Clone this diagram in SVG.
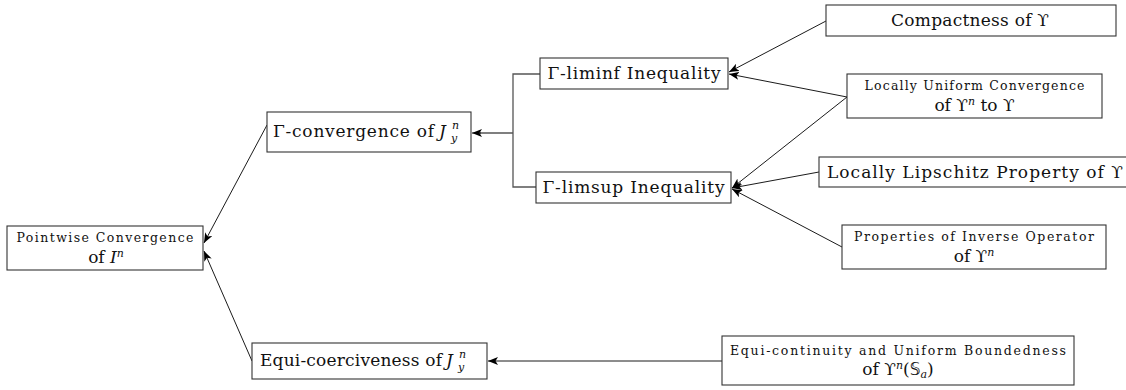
<svg xmlns="http://www.w3.org/2000/svg" width="1126" height="390" viewBox="0 0 1126 390">
<defs>
<marker id="arr" viewBox="0 0 10 8" refX="10" refY="4" markerWidth="10" markerHeight="8" markerUnits="userSpaceOnUse" orient="auto">
<path d="M0,0 L10,4 L0,8 L2.5,4 z" fill="#000"/>
</marker>
<style>
.box{fill:#fff;stroke:#333;stroke-width:1.1}
.t{font-family:"DejaVu Serif","Liberation Serif",serif;font-size:17px;fill:#111}
.s{font-family:"DejaVu Serif","Liberation Serif",serif;font-size:12.5px;fill:#111}
.m{font-family:"DejaVu Serif","Liberation Serif",serif;font-size:17px;fill:#111}
.i{font-style:italic}
.sup{font-size:11px}
.bb{font-family:"DejaVu Sans",sans-serif}
.ln{fill:none;stroke:#000;stroke-width:0.9}
.br{fill:none;stroke:#555;stroke-width:1.3}
</style>
</defs>
<rect width="1126" height="390" fill="#fff"/>

<g id="connectors">
<line class="ln" x1="267" y1="125" x2="204" y2="243" marker-end="url(#arr)"/>
<line class="ln" x1="252" y1="361" x2="204" y2="251" marker-end="url(#arr)"/>
<polyline class="br" points="540,74 513,74 513,187 536,187"/>
<line class="br" x1="513" y1="133" x2="480" y2="133"/>
<line class="ln" x1="481" y1="133" x2="472" y2="133" marker-end="url(#arr)"/>
<line class="ln" x1="826" y1="21" x2="729" y2="72" marker-end="url(#arr)"/>
<line class="ln" x1="847" y1="97" x2="729" y2="74" marker-end="url(#arr)"/>
<line class="ln" x1="847" y1="97" x2="732" y2="188" marker-end="url(#arr)"/>
<line class="ln" x1="819" y1="172" x2="732" y2="188" marker-end="url(#arr)"/>
<line class="ln" x1="842" y1="247" x2="732" y2="189" marker-end="url(#arr)"/>
<line class="ln" x1="722" y1="361" x2="488" y2="361" marker-end="url(#arr)"/>
</g>

<g id="pointwise">
<rect class="box" x="7" y="226" width="196" height="44"/>
<text class="s" x="105" y="242" text-anchor="middle" textLength="177">Pointwise Convergence</text>
<text class="m" x="106" y="262.5" text-anchor="middle">of <tspan class="i">I</tspan><tspan class="i sup" dy="-6">n</tspan></text>
</g>

<g id="gconv">
<rect class="box" x="267" y="112" width="204" height="40"/>
<text class="t" x="273" y="137" textLength="161">Γ-convergence of</text>
<text class="m i" x="439" y="137">J</text>
<text class="m i sup" x="452" y="129">n</text>
<text class="m i sup" x="451" y="142">y</text>
</g>

<g id="liminf">
<rect class="box" x="540" y="58" width="188" height="31"/>
<text class="t" x="634" y="79" text-anchor="middle" textLength="173">Γ-liminf Inequality</text>
</g>

<g id="limsup">
<rect class="box" x="536" y="172" width="195" height="31"/>
<text class="t" x="633.5" y="193" text-anchor="middle" textLength="182">Γ-limsup Inequality</text>
</g>

<g id="compact">
<rect class="box" x="826" y="5" width="290" height="31"/>
<text class="t" x="970" y="26" text-anchor="middle" textLength="158">Compactness of ϒ</text>
</g>

<g id="lu">
<rect class="box" x="847" y="74" width="255" height="44"/>
<text class="s" x="974.5" y="90" text-anchor="middle" textLength="220">Locally Uniform Convergence</text>
<text class="m" x="974.5" y="110.5" text-anchor="middle">of ϒ<tspan class="i sup" dy="-6">n</tspan><tspan dy="6"> to ϒ</tspan></text>
</g>

<g id="lipschitz">
<rect class="box" x="819" y="157" width="314" height="30"/>
<text class="t" x="827" y="178" textLength="296">Locally Lipschitz Property of ϒ</text>
</g>

<g id="props">
<rect class="box" x="842" y="225" width="264" height="44"/>
<text class="s" x="974" y="241" text-anchor="middle" textLength="240">Properties of Inverse Operator</text>
<text class="m" x="974" y="261.5" text-anchor="middle">of ϒ<tspan class="i sup" dy="-6">n</tspan></text>
</g>

<g id="equicoer">
<rect class="box" x="252" y="343" width="235" height="36"/>
<text class="t" x="260" y="366" textLength="182">Equi-coerciveness of</text>
<text class="m i" x="446" y="366">J</text>
<text class="m i sup" x="459" y="358">n</text>
<text class="m i sup" x="458" y="371">y</text>
</g>

<g id="equicont">
<rect class="box" x="722" y="336" width="352" height="49"/>
<text class="s" x="898" y="354.5" text-anchor="middle" textLength="336">Equi-continuity and Uniform Boundedness</text>
<text class="m" x="898" y="375" text-anchor="middle">of ϒ<tspan class="i sup" dy="-6">n</tspan><tspan dy="6">(</tspan><tspan class="bb">𝕊</tspan><tspan class="i sup" dy="3">a</tspan><tspan dy="-3">)</tspan></text>
</g>
</svg>
